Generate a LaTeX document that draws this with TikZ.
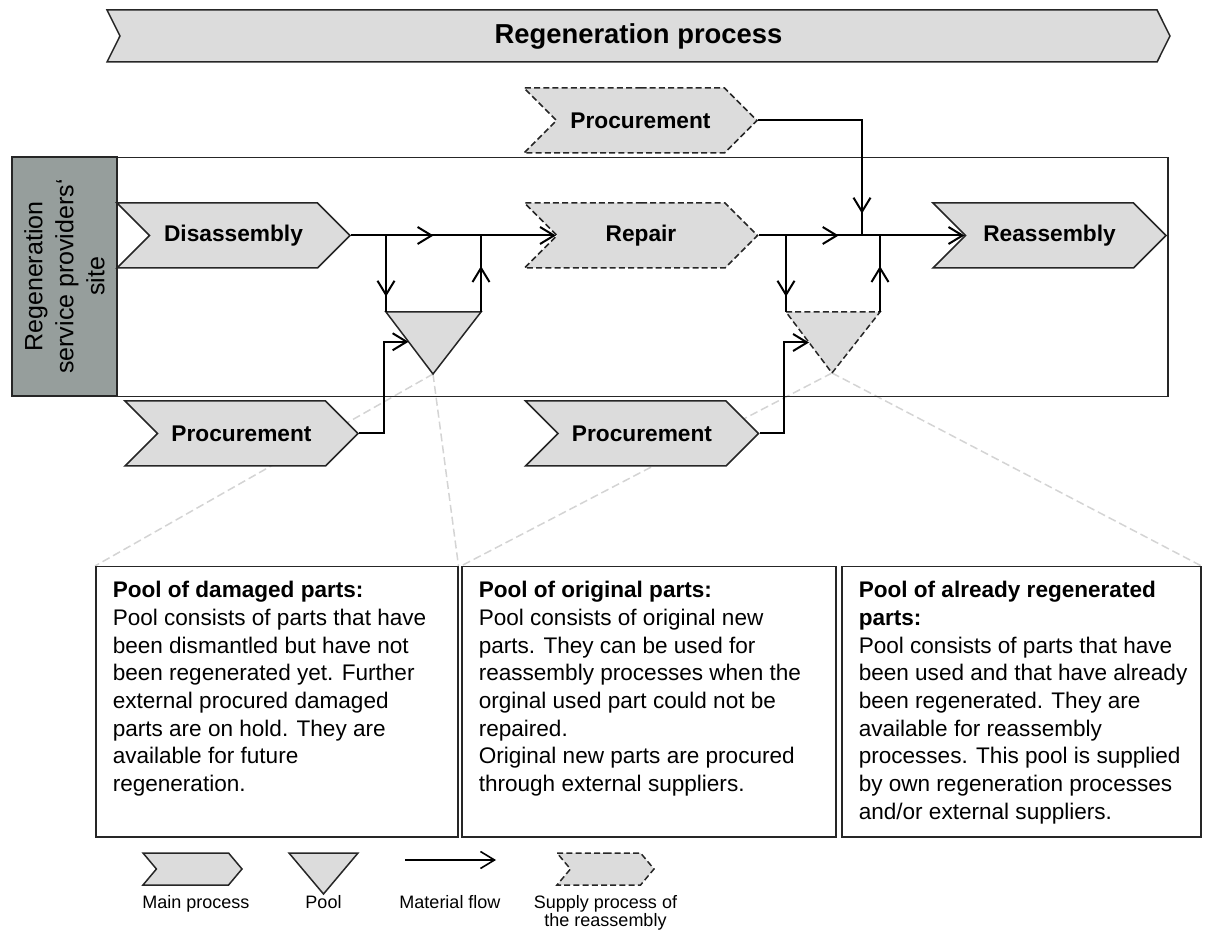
\documentclass[tikz,border=0pt]{standalone}
\usepackage{fontspec}
\setmainfont{Liberation Sans}
\usetikzlibrary{arrows.meta,positioning,calc,shapes.symbols,decorations.markings,backgrounds}

\definecolor{procfill}{RGB}{220,220,220}
\definecolor{sitefill}{RGB}{150,158,156}
\definecolor{leadgray}{RGB}{212,212,212}

\newcommand{\notebox}[2]{\parbox[t][135pt][t]{#1}{\leftskip=8.5pt\rightskip=0pt plus 1fil\parindent=0pt\rule{0pt}{15.5pt}#2}}

\begin{document}
\begin{tikzpicture}[x=0.5pt,y=-0.5pt,>={Straight Barb[length=7pt,width=8.5pt]},
proc/.style={signal,signal to=east,signal from=west,draw=black!85,line width=0.75pt,fill=procfill,minimum width=116.5pt,minimum height=32.5pt,inner sep=0pt,font=\fontsize{11.35}{13}\selectfont\bfseries},
supply/.style={proc,dash pattern=on 3pt off 1.6pt},
pool/.style={draw=black!85,line width=0.75pt,fill=procfill},
flow/.style={line width=1pt,draw=black},
flowend/.style={flow,->},
flowmid/.style={flow,postaction={decorate},decoration={markings,mark=at position #1 with {\arrow{>}}}},
note/.style={draw=black!85,line width=0.75pt,anchor=north west,inner sep=0pt,font=\fontsize{11.28}{13.85}\selectfont},
lead/.style={draw=leadgray,line width=0.75pt,dash pattern=on 4pt off 2pt},
keytext/.style={anchor=north,inner sep=0pt,align=center,font=\fontsize{9}{9.2}\selectfont}]
\useasboundingbox (0,0) rectangle (1211,930);

% overall process
\node[proc,signal pointer angle=127,minimum width=531.5pt,minimum height=26pt,font=\fontsize{13.7}{16}\selectfont\bfseries] (title) at (638.5,36) {Regeneration process};

% site of the service provider
\node[draw=black!85,line width=0.75pt,anchor=north west,inner sep=0pt,minimum width=577.5pt,minimum height=119.5pt] (site) at (12,157) {};
\node[draw=black!85,line width=0.75pt,fill=sitefill,rotate=90,inner sep=0pt,minimum width=119.5pt,minimum height=52.5pt,align=center,font=\fontsize{12.5}{15.5}\selectfont] (sitelbl) at (64.5,276.5) {Regeneration\\service providers‘\\site};

% processes
\node[supply] (proctop) at (640.5,120.5) {Procurement};
\node[proc] (disas) at (233.5,235.5) {Disassembly};
\node[supply] (repair) at (641,235.5) {Repair};
\node[proc] (reasm) at (1049.5,235.5) {Reassembly};
\node[proc] (procdmg) at (241.5,433.5) {Procurement};
\node[proc] (procorg) at (642,433.5) {Procurement};

% pools
\coordinate (dmgw) at (386,312);
\coordinate (dmge) at (481,312);
\coordinate (dmgs) at (433,374);
\coordinate (orgw) at (786,312);
\coordinate (orge) at (880,312);
\coordinate (orgs) at (832,373);
\draw[pool] (dmgw) -- (dmge) -- (dmgs) -- cycle;
\draw[pool,dash pattern=on 3pt off 1.6pt] (orgw) -- (orge) -- (orgs) -- cycle;

% material flow
\coordinate (j1) at (dmgw |- disas.east);
\coordinate (j2) at (dmge |- disas.east);
\coordinate (j3) at (orgw |- repair.east);
\coordinate (j4) at (orge |- repair.east);
\coordinate (j5) at (862,235.5);
\coordinate (dmgin) at ($(dmgw)!0.48!(dmgs)$);
\coordinate (orgin) at ($(orgw)!0.5!(orgs)$);
\draw[flow] (disas.east) -- (j1);
\draw[flowmid=0.5] (j1) -- (j2);
\draw[flowend] (j2) -- (repair.west);
\draw[flowmid=0.8] (j1) -- (dmgw);
\draw[flowmid=0.6] (dmge) -- (j2);
\draw[flow] (repair.east) -- (j3);
\draw[flowmid=0.56] (j3) -- (j4);
\draw[flowend] (j4) -- (reasm.west);
\draw[flowmid=0.8] (j3) -- (orgw);
\draw[flowmid=0.6] (orge) -- (j4);
\draw[flowmid=0.9] (proctop.east) -| (j5);
\draw[flowend] (procdmg.east) -| ($(dmgin)+(-25,0)$) -- (dmgin);
\draw[flowend] (procorg.east) -| ($(orgin)+(-25,0)$) -- (orgin);

% pool descriptions
\node[note] (dmg) at (95,566) {\notebox{181pt}{\textbf{Pool of damaged parts:}\\
Pool consists of parts that have\\
been dismantled but have not\\
been regenerated yet. Further\\
external procured damaged\\
parts are on hold. They are\\
available for future\\
regeneration.}};
\node[note] (org) at (461,566) {\notebox{187pt}{\textbf{Pool of original parts:}\\
Pool consists of original new\\
parts. They can be used for\\
reassembly processes when the\\
orginal used part could not be\\
repaired.\\
Original new parts are procured\\
through external suppliers.}};
\node[note] (reg) at (841,566) {\notebox{179.5pt}{\textbf{Pool of already regenerated}\\
\textbf{parts:}\\
Pool consists of parts that have\\
been used and that have already\\
been regenerated. They are\\
available for reassembly\\
processes. This pool is supplied\\
by own regeneration processes\\
and/or external suppliers.}};

\begin{scope}[on background layer]
\draw[lead] (dmgs) -- (dmg.north west);
\draw[lead] (dmgs) -- (dmg.north east);
\draw[lead] (orgs) -- (org.north west);
\draw[lead] (orgs) -- (reg.north east);
\end{scope}

% legend
\node[proc,signal pointer angle=100,minimum width=49.5pt,minimum height=16pt] (keyproc) at (192.5,869) {};
\coordinate (keypw) at (289,853);
\coordinate (keype) at (358,853);
\coordinate (keyps) at (323.5,894);
\draw[pool] (keypw) -- (keype) -- (keyps) -- cycle;
\coordinate (keyfa) at (405,860);
\coordinate (keyfb) at (496,860);
\draw[flowend,line width=0.8pt] (keyfa) -- (keyfb);
\node[supply,signal pointer angle=100,minimum width=48.5pt,minimum height=16pt] (keysup) at (605.5,869) {};
\node[keytext] (keyproclbl) at (196,895) {Main process};
\node[keytext] (keypoollbl) at (323.5,895) {Pool};
\node[keytext] (keyflowlbl) at (450,895) {Material flow};
\node[keytext] (keysuplbl) at (605.5,895) {Supply process of\\the reassembly};
\end{tikzpicture}
\end{document}
